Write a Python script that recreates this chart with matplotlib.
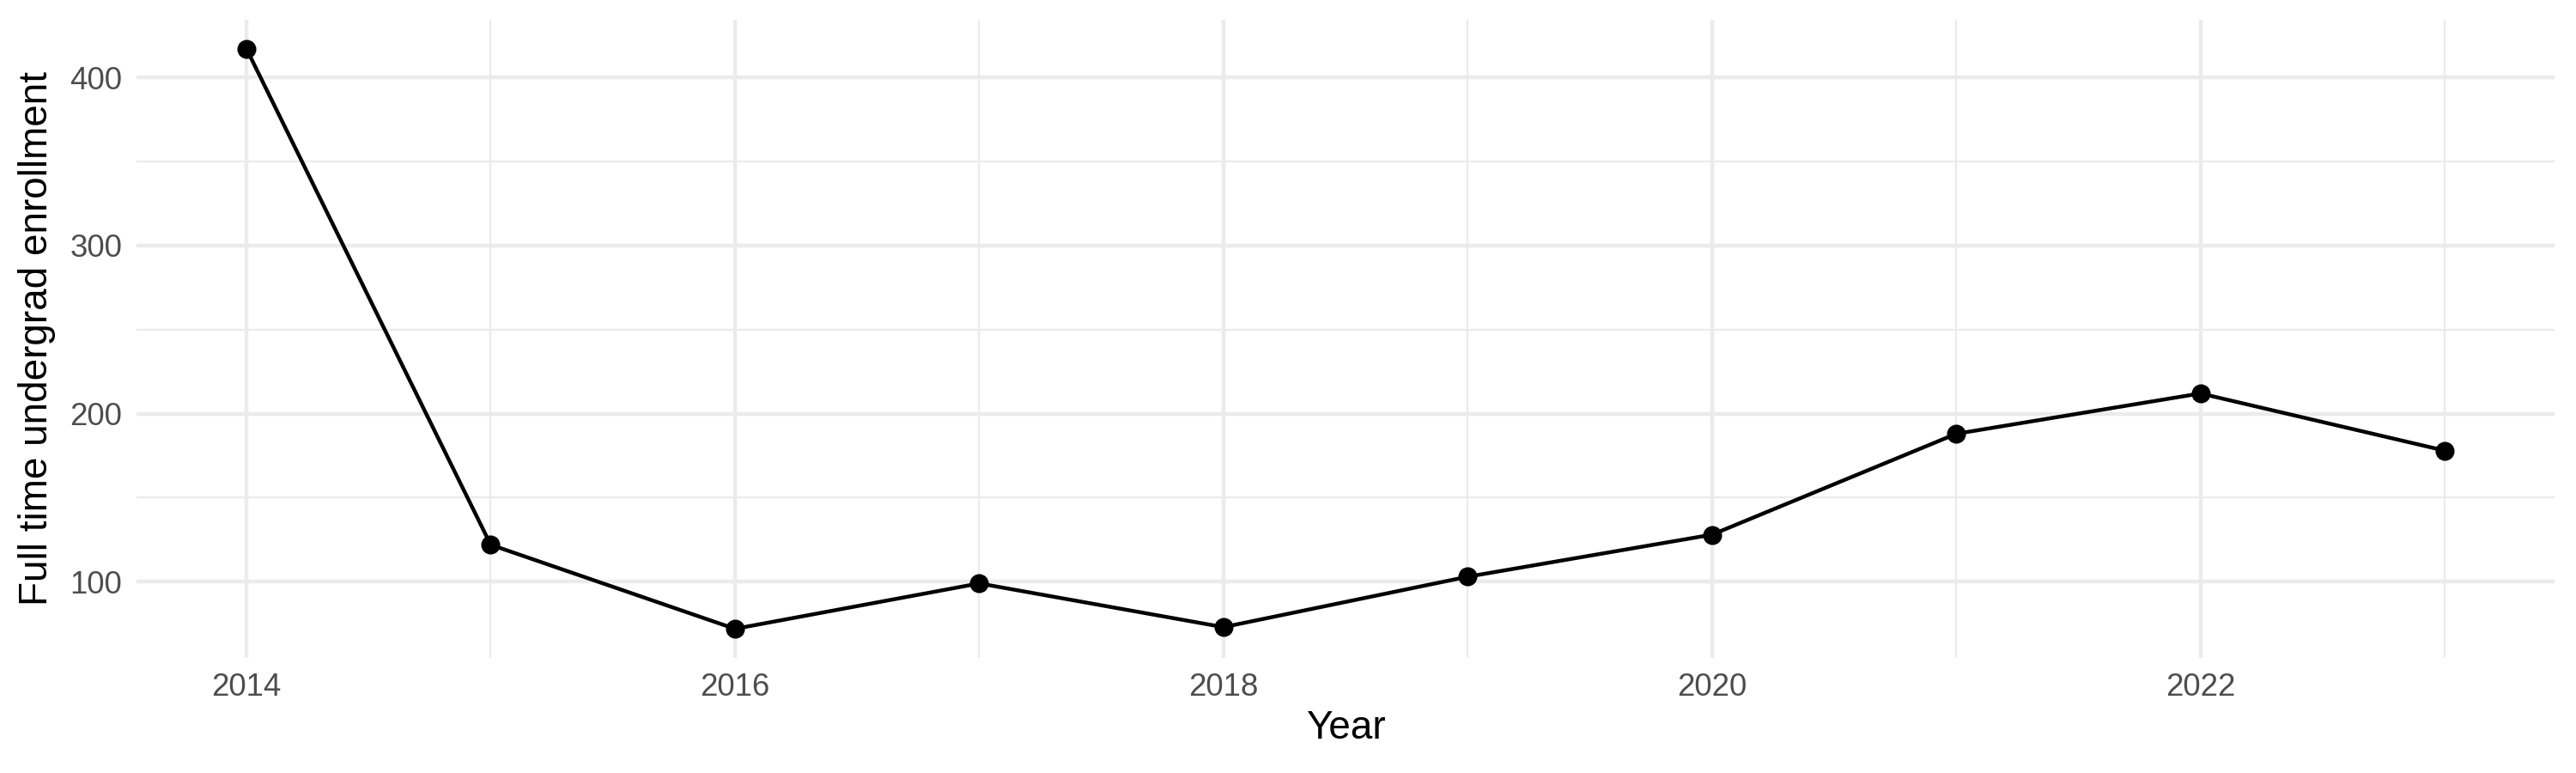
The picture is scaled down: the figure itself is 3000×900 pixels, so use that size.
import matplotlib
matplotlib.use("Agg")
import matplotlib.pyplot as plt
from matplotlib.ticker import FixedLocator

years = [2014, 2015, 2016, 2017, 2018, 2019, 2020, 2021, 2022, 2023]
enrollment = [417, 122, 72, 99, 73, 103, 128, 188, 212, 178]
x_major = [2014, 2016, 2018, 2020, 2022]
x_minor = [2015, 2017, 2019, 2021, 2023]
y_major = [100, 200, 300, 400]
y_minor = [150, 250, 350]
x_label = "Year"
y_label = "Full time undergrad enrollment"

plt.rcParams['font.family'] = ['Liberation Sans', 'DejaVu Sans']

fig = plt.figure(figsize=(10, 3), dpi=300)
ax = fig.add_axes([0.053, 0.149, 0.9387, 0.8254])

ax.plot(years, enrollment, color='black', linewidth=1.07, zorder=3)
ax.plot(years, enrollment, 'o', color='black', markersize=4.3, zorder=4)

xr = max(years) - min(years)
ax.set_xlim(min(years) - 0.05 * xr, max(years) + 0.05 * xr)
yr = max(enrollment) - min(enrollment)
ax.set_ylim(min(enrollment) - 0.05 * yr, max(enrollment) + 0.05 * yr)

ax.xaxis.set_major_locator(FixedLocator(x_major))
ax.xaxis.set_minor_locator(FixedLocator(x_minor))
ax.yaxis.set_major_locator(FixedLocator(y_major))
ax.yaxis.set_minor_locator(FixedLocator(y_minor))
ax.set_xticklabels([str(v) for v in x_major])
ax.set_yticklabels([str(v) for v in y_major])

ax.grid(which='major', color='#EBEBEB', linewidth=1.07)
ax.grid(which='minor', color='#EBEBEB', linewidth=0.53)
ax.set_axisbelow(True)
for s in ax.spines.values():
    s.set_visible(False)
ax.tick_params(which='both', length=0)
ax.tick_params(axis='both', labelsize=8.8, labelcolor='#4D4D4D')
ax.tick_params(axis='x', pad=4)
ax.tick_params(axis='y', pad=4)

ax.set_xlabel(x_label, fontsize=11, color='black', labelpad=2)
ax.set_ylabel(y_label, fontsize=11, color='black', labelpad=4)

fig.savefig("out.png", dpi=300, facecolor='white')
